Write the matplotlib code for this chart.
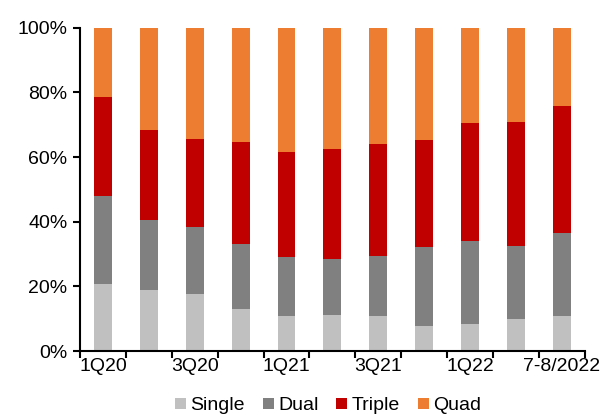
import matplotlib.pyplot as plt
import numpy as np

plt.rcParams["font.family"] = ["Liberation Sans", "DejaVu Sans"]
plt.rcParams["font.size"] = 14

periods = ["1Q20", "2Q20", "3Q20", "4Q20", "1Q21", "2Q21",
           "3Q21", "4Q21", "1Q22", "2Q22", "7-8/2022"]

single = [20.7, 18.8, 17.6, 12.9, 11.0, 11.3, 10.8, 7.7, 8.4, 9.8, 10.8]
dual = [27.4, 21.7, 20.7, 20.2, 18.1, 17.2, 18.5, 24.4, 25.7, 22.6, 25.7]
triple = [30.5, 27.9, 27.4, 31.6, 32.5, 34.1, 34.8, 33.2, 36.4, 38.5, 39.3]
quad = [21.4, 31.6, 34.3, 35.3, 38.4, 37.4, 35.9, 34.7, 29.5, 29.1, 24.2]

series = [
    ("Single", single, "#c0c0c0"),
    ("Dual", dual, "#808080"),
    ("Triple", triple, "#c00000"),
    ("Quad", quad, "#ed7d31"),
]

fig = plt.figure(figsize=(6.03, 4.15), dpi=100)
ax = fig.add_axes([0.1327, 0.154, 0.837, 0.779])

x = np.arange(len(periods))
bottom = np.zeros(len(periods))
for name, vals, color in series:
    ax.bar(x, vals, width=0.39, bottom=bottom, color=color, label=name)
    bottom += np.array(vals)

ax.set_xlim(-0.5, len(periods) - 0.5)
ax.set_ylim(0, 100)
ax.set_yticks(np.arange(0, 101, 20))
ax.set_yticklabels([f"{v}%" for v in range(0, 101, 20)])

# tick marks sit between categories, labels on every other category
ax.set_xticks(np.arange(-0.5, len(periods), 1.0))
ax.set_xticklabels([])
ax.set_xticks(x[::2], minor=True)
ax.set_xticklabels(periods[::2], minor=True)
ax.tick_params(axis="x", which="major", length=5, width=1.5, direction="out")
ax.tick_params(axis="x", which="minor", length=0, pad=5)
ax.tick_params(axis="y", length=5, width=1.5, direction="out", pad=4)

for side in ["top", "right"]:
    ax.spines[side].set_visible(False)
for side in ["left", "bottom"]:
    ax.spines[side].set_linewidth(1.5)

fig.legend(loc="center", bbox_to_anchor=(0.544, 0.022), ncol=4,
           frameon=False, handlelength=0.57, handleheight=0.57,
           handletextpad=0.2, columnspacing=0.93, borderpad=0)

fig.savefig("out.png", dpi=100)
